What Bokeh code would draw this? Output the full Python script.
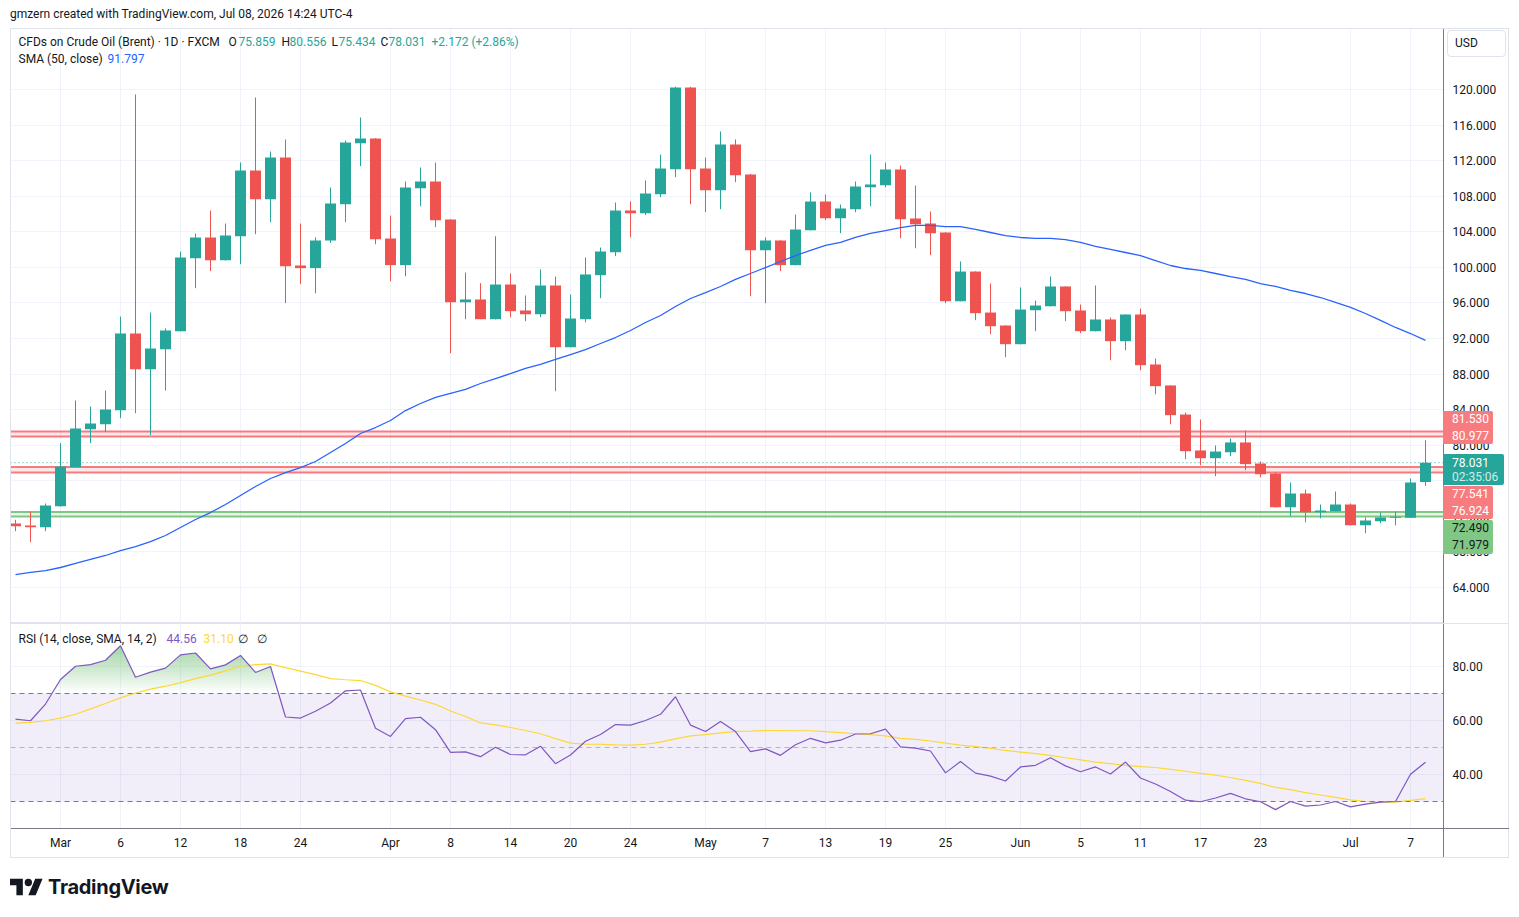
import numpy as np
from bokeh.plotting import figure
from bokeh.models import Range1d, FixedTicker, Span, BoxAnnotation, Label, Div, NumeralTickFormatter
from bokeh.layouts import column
from bokeh.embed import file_html
from bokeh.resources import INLINE

# ---------------- data ----------------
opens = [71.20, 70.97, 70.78, 73.14, 77.53, 81.80, 82.36, 83.94, 92.56, 88.55,
         90.80, 92.82, 101.03, 103.36, 100.80, 103.50, 110.89, 107.66, 112.35, 100.21,
         99.91, 103.02, 107.10, 113.96, 114.49, 103.25, 100.25, 108.90, 109.65, 105.38,
         96.08, 96.39, 94.17, 98.07, 95.15, 94.73, 97.96, 91.02, 94.17, 99.12,
         101.70, 106.39, 106.09, 108.23, 111.04, 120.22, 111.12, 108.68, 113.82, 110.44,
         101.93, 103.02, 100.25, 104.18, 107.41, 105.53, 106.54, 109.01, 109.24, 111.00,
         105.49, 104.93, 103.92, 96.19, 99.53, 94.92, 93.46, 91.36, 95.18, 95.63,
         97.85, 95.15, 92.82, 94.14, 91.70, 94.70, 89.08, 86.72, 83.45, 79.41,
         78.54, 79.21, 80.31, 77.94, 76.82, 73.03, 74.57, 72.47, 72.58, 73.33,
         71.00, 71.46, 71.85, 71.85, 75.859]
highs = [71.61, 72.55, 73.45, 80.23, 85.03, 84.35, 86.15, 94.47, 119.44, 94.92,
         93.13, 101.78, 103.81, 106.39, 104.93, 111.79, 119.10, 113.03, 114.38, 104.93,
         103.36, 108.98, 114.27, 116.85, 114.52, 105.83, 109.65, 111.23, 111.79, 105.40,
         99.42, 98.22, 103.50, 99.31, 96.84, 99.76, 98.97, 96.95, 101.11, 102.23,
         107.29, 107.41, 109.77, 112.69, 120.30, 120.30, 112.35, 115.28, 114.38, 110.50,
         103.36, 103.05, 105.94, 108.42, 108.19, 107.07, 109.65, 112.69, 111.79, 111.45,
         109.20, 106.28, 103.95, 100.66, 99.55, 98.18, 93.48, 97.74, 96.27, 98.97,
         97.87, 95.82, 97.96, 94.36, 94.72, 95.37, 89.75, 86.74, 83.68, 82.89,
         79.97, 80.76, 81.65, 78.17, 76.93, 75.81, 75.02, 73.33, 74.79, 73.45,
         71.87, 72.43, 72.55, 76.26, 80.556]
lows = [70.33, 69.10, 70.33, 73.10, 77.50, 80.23, 81.47, 83.04, 83.60, 81.13,
        86.15, 92.80, 97.66, 99.57, 100.78, 100.36, 103.73, 105.08, 95.97, 98.11,
        97.09, 102.76, 105.08, 111.38, 102.60, 98.44, 99.00, 106.88, 104.52, 90.35,
        94.17, 94.17, 94.15, 94.40, 93.95, 94.40, 86.07, 91.00, 93.83, 96.53,
        101.26, 103.39, 105.87, 107.89, 110.14, 107.10, 106.20, 106.54, 109.58, 96.76,
        95.97, 99.57, 100.22, 104.15, 105.30, 103.84, 106.20, 106.88, 109.01, 103.28,
        102.15, 101.37, 95.97, 96.17, 94.06, 92.48, 89.90, 91.34, 92.82, 95.60,
        93.95, 92.60, 92.80, 89.56, 90.68, 88.44, 85.74, 82.36, 78.43, 77.75,
        76.52, 78.77, 77.19, 76.40, 73.00, 72.02, 71.34, 71.79, 72.56, 70.98,
        70.11, 71.23, 71.00, 71.83, 75.434]
closes = [70.90, 70.78, 73.22, 77.61, 81.88, 82.44, 84.02, 92.56, 88.55, 90.88,
          92.90, 101.11, 103.36, 100.80, 103.58, 110.89, 107.66, 112.35, 100.13, 99.91,
          103.02, 107.18, 114.04, 114.49, 103.17, 100.25, 108.98, 109.65, 105.30, 96.08,
          96.39, 94.17, 98.07, 95.07, 94.73, 97.96, 91.02, 94.25, 99.20, 101.78,
          106.39, 106.09, 108.31, 111.12, 120.22, 111.04, 108.68, 113.82, 110.36, 101.93,
          103.02, 100.25, 104.26, 107.41, 105.53, 106.62, 109.09, 109.32, 111.00, 105.42,
          104.85, 103.84, 96.19, 99.53, 94.85, 93.38, 91.36, 95.26, 95.71, 97.85,
          95.07, 92.82, 94.14, 91.70, 94.70, 89.00, 86.64, 83.38, 79.33, 78.54,
          79.29, 80.31, 77.87, 76.74, 73.03, 74.57, 72.47, 72.66, 73.33, 71.00,
          71.53, 71.87, 71.95, 75.81, 78.031]
sma50 = [65.46, 65.69, 65.91, 66.25, 66.70, 67.15, 67.60, 68.16, 68.61, 69.17,
         69.85, 70.75, 71.65, 72.43, 73.33, 74.35, 75.36, 76.26, 76.93, 77.49,
         78.17, 79.18, 80.19, 81.32, 81.99, 82.78, 83.90, 84.69, 85.37, 85.82,
         86.27, 86.94, 87.50, 88.06, 88.63, 89.08, 89.64, 90.20, 90.76, 91.44,
         92.11, 92.90, 93.80, 94.59, 95.60, 96.50, 97.17, 97.85, 98.64, 99.31,
         99.98, 100.66, 101.33, 101.90, 102.46, 102.80, 103.36, 103.81, 104.14, 104.48,
         104.71, 104.71, 104.59, 104.59, 104.26, 103.92, 103.58, 103.36, 103.25, 103.25,
         103.13, 102.80, 102.35, 102.01, 101.67, 101.33, 100.77, 100.21, 99.87, 99.65,
         99.31, 98.97, 98.64, 98.18, 97.85, 97.40, 97.06, 96.61, 96.05, 95.49,
         94.81, 94.03, 93.24, 92.56, 91.797]
rsi = [60.5, 59.9, 66.1, 75.2, 80.1, 80.7, 82.3, 87.7, 76.0, 77.9,
       79.4, 84.3, 85.0, 79.1, 80.6, 84.1, 77.8, 80.0, 61.3, 60.9,
       63.4, 66.5, 71.0, 71.3, 57.1, 54.1, 60.7, 61.2, 56.6, 48.2,
       48.4, 46.6, 50.1, 47.4, 47.3, 50.5, 44.0, 47.2, 52.3, 54.8,
       58.5, 58.3, 60.0, 62.3, 68.8, 58.3, 55.9, 59.6, 55.9, 48.5,
       49.5, 47.1, 51.0, 53.4, 51.7, 52.7, 55.0, 55.1, 56.8, 50.2,
       49.8, 48.7, 40.6, 44.8, 40.5, 39.4, 37.6, 42.8, 43.4, 46.2,
       43.2, 41.0, 42.8, 40.2, 44.6, 38.7, 36.5, 33.7, 30.5, 29.9,
       31.3, 33.0, 31.0, 29.9, 27.0, 30.0, 28.3, 28.7, 30.0, 28.0,
       29.0, 29.8, 30.0, 40.1, 44.56]
rsi_sma = [59.0, 59.3, 59.9, 60.9, 62.3, 64.3, 66.3, 68.4, 70.2, 71.6,
           72.7, 74.0, 75.5, 76.8, 78.4, 80.1, 80.7, 81.0, 79.6, 78.3,
           77.0, 75.5, 75.1, 74.8, 73.0, 70.6, 69.0, 67.6, 66.0, 63.5,
           61.5, 59.1, 58.4, 57.4, 56.3, 55.1, 53.3, 51.6, 51.2, 51.2,
           51.0, 50.9, 51.2, 52.0, 53.2, 54.3, 54.8, 55.4, 56.0, 56.1,
           56.3, 56.3, 56.2, 56.2, 55.9, 55.5, 55.1, 54.8, 54.3, 53.4,
           53.0, 52.4, 51.6, 50.9, 50.3, 49.7, 48.9, 48.3, 47.7, 47.1,
           46.2, 45.4, 44.6, 44.0, 43.4, 42.9, 42.6, 41.9, 41.2, 40.4,
           39.8, 38.9, 37.8, 36.7, 35.2, 34.4, 33.3, 32.4, 31.5, 30.6,
           30.0, 29.8, 29.8, 30.4, 31.10]
tick_bars = [3, 7, 11, 15, 19, 25, 29, 33, 37, 41, 46, 50, 54, 58, 62, 67, 71, 75, 79, 83, 89, 93]
tick_labels = ["Mar", "6", "12", "18", "24", "Apr", "8", "14", "20", "24", "May", "7",
               "13", "19", "25", "Jun", "5", "11", "17", "23", "Jul", "7"]
price_ticks = [64, 68, 72, 76, 80, 84, 88, 92, 96, 100, 104, 108, 112, 116, 120]
rsi_ticks = [40, 60, 80]
resist_hi = [81.530, 80.977]
resist_lo = [77.541, 76.924]
support = [72.490, 71.979]
last_close = 78.031
countdown = "02:35:06"

# ---------------- helpers ----------------
UP, DN = "#26a69a", "#ef5350"
FONT = "Roboto"
TXT = "#131722"
GRID = "#f0f3fa"
AXLINE = "#787b86"
RED_TAG, GREEN_TAG = "#f77c80", "#81c784"

def bx(px):
    return (px - 15.0) / 15.0

def py(px):
    return 120.0 - (px - 89.0) / 8.893

def ry(px):
    return 80.0 - (px - 666.0) / 2.7

n = len(closes)
bars = np.arange(n)
o = np.array(opens); c = np.array(closes)
up = c >= o
colors = [UP if u else DN for u in up]
body_top = np.maximum(o, c)
body_bot = np.minimum(o, c)
mid = (body_top + body_bot) / 2
small = (body_top - body_bot) < 0.12
body_top = np.where(small, mid + 0.06, body_top)
body_bot = np.where(small, mid - 0.06, body_bot)

xr = Range1d(bx(10), bx(1443))

# ---------------- price pane ----------------
p = figure(width=1519, height=595, x_range=xr, y_range=Range1d(py(623), py(28)),
           output_backend="svg", toolbar_location=None, x_axis_location=None,
           y_axis_location="right", min_border_left=10, min_border_right=76,
           min_border_top=0, min_border_bottom=0)
p.outline_line_color = "#e0e3eb"
p.xgrid.ticker = FixedTicker(ticks=tick_bars)
p.ygrid.ticker = FixedTicker(ticks=price_ticks)
p.grid.grid_line_color = GRID
p.yaxis.ticker = FixedTicker(ticks=price_ticks)
p.yaxis.formatter = NumeralTickFormatter(format="0.000")
p.yaxis.major_tick_line_color = None
p.yaxis.minor_tick_line_color = None
p.yaxis.major_tick_out = 0
p.yaxis.major_tick_in = 0
p.yaxis.major_label_standoff = 9
p.yaxis.axis_line_color = AXLINE
p.yaxis.major_label_text_font = FONT
p.yaxis.major_label_text_font_size = "12px"
p.yaxis.major_label_text_color = TXT

# support / resistance zones
for pair, col, fill in [(resist_hi, RED_TAG, "#f23645"), (resist_lo, RED_TAG, "#f23645"),
                        (support, GREEN_TAG, "#4caf50")]:
    p.add_layout(BoxAnnotation(bottom=min(pair), top=max(pair), fill_color=fill,
                               fill_alpha=0.12, line_color=None, level="underlay"))
    for v in pair:
        p.add_layout(Span(location=v, dimension="width", line_color=col, line_width=2,
                          level="underlay"))
p.add_layout(Span(location=last_close, dimension="width", line_color=UP, line_width=1,
                  line_dash="1 3", level="underlay"))

p.segment(x0=bars, y0=lows, x1=bars, y1=highs, line_color=colors, line_width=1)
p.vbar(x=bars, width=11 / 15, top=body_top, bottom=body_bot, fill_color=colors, line_color=None)
p.line(bars, sma50, line_color="#2962ff", line_width=1.3)

def lab(fig, xpx, y, text, color=TXT, size="12px", **kw):
    fig.add_layout(Label(x=bx(xpx), y=y, text=text, text_align="left", text_baseline="middle",
                         text_font=FONT, text_font_size=size, text_color=color, **kw))

# legend row 1
y1 = py(41)
lab(p, 18, y1, "CFDs on Crude Oil (Brent) · 1D · FXCM")
for xpx, t, col in [(228, "O", TXT), (238, "%.3f" % opens[-1], UP), (281, "H", TXT),
                    (289, "%.3f" % highs[-1], UP), (331, "L", TXT), (338, "%.3f" % lows[-1], UP),
                    (380, "C", TXT), (388, "%.3f" % closes[-1], UP),
                    (431, "+2.172 (+2.86%)", UP)]:
    lab(p, xpx, y1, t, col)
y2 = py(58)
lab(p, 18, y2, "SMA (50, close)")
lab(p, 107, y2, "%.3f" % sma50[-1], "#2962ff")

# ---------------- RSI pane ----------------
r = figure(width=1519, height=234, x_range=xr, y_range=Range1d(20, ry(623)),
           output_backend="svg", toolbar_location=None, y_axis_location="right",
           min_border_left=10, min_border_right=76, min_border_top=0, min_border_bottom=29)
r.outline_line_color = "#e0e3eb"
r.xaxis.ticker = FixedTicker(ticks=tick_bars)
r.xaxis.major_label_overrides = {b: l for b, l in zip(tick_bars, tick_labels)}
r.xgrid.ticker = FixedTicker(ticks=tick_bars)
r.ygrid.ticker = FixedTicker(ticks=rsi_ticks)
r.yaxis.ticker = FixedTicker(ticks=rsi_ticks)
r.yaxis.formatter = NumeralTickFormatter(format="0.00")
r.grid.grid_line_color = GRID
for ax in (r.xaxis, r.yaxis):
    ax.major_tick_line_color = None
    ax.minor_tick_line_color = None
    ax.major_tick_out = 0
    ax.major_tick_in = 0
    ax.axis_line_color = AXLINE
    ax.major_label_text_font = FONT
    ax.major_label_text_font_size = "12px"
    ax.major_label_text_color = TXT
r.yaxis.major_label_standoff = 9
r.xaxis.major_label_standoff = 7

r.add_layout(BoxAnnotation(bottom=30, top=70, fill_color="#7e57c2", fill_alpha=0.1,
                           line_color=None, level="underlay"))
for lvl, a in [(70, 1.0), (50, 0.5), (30, 1.0)]:
    r.add_layout(Span(location=lvl, dimension="width", line_color="#787b86", line_alpha=a,
                      line_dash="5 4", line_width=1))

# gradient fills beyond 70 / below 30 (area between the RSI line and the level)
xs = np.linspace(0, n - 1, (n - 1) * 20 + 1)
rs = np.interp(xs, bars, rsi)
for L in range(70, 96):
    top = np.clip(rs, L, L + 1)
    if np.all(top <= L):
        continue
    a = min(0.6, 0.6 * (L + 0.5 - 70) / 20)
    r.varea(x=xs, y1=np.full_like(xs, float(L)), y2=top, fill_color="#4caf50", fill_alpha=a)
for L in range(20, 30):
    bot = np.clip(rs, L, L + 1)
    if np.all(bot >= L + 1):
        continue
    a = min(0.6, 0.6 * (30 - (L + 0.5)) / 20)
    r.varea(x=xs, y1=bot, y2=np.full_like(xs, float(L + 1)), fill_color="#ef5350", fill_alpha=a)

r.line(bars, rsi_sma, line_color="#fdd835", line_width=1.2)
r.line(bars, rsi, line_color="#7e57c2", line_width=1.2)

yr = ry(638)
lab(r, 18, yr, "RSI (14, close, SMA, 14, 2)")
lab(r, 166, yr, "%.2f" % rsi[-1], "#7e57c2")
lab(r, 203, yr, "%.2f" % rsi_sma[-1], "#fdd835")
lab(r, 237, yr, "∅")
lab(r, 256, yr, "∅")

# ---------------- header / footer (+ price-scale tags drawn as an HTML overlay) ----------------
header = Div(text='<div style="padding-left:10px;line-height:28px;font-family:Roboto;'
                  'font-size:12px;color:#131722;white-space:nowrap;">'
                  'gmzern created with TradingView.com, Jul 08, 2026 14:24 UTC-4</div>',
             width=1519, height=28, margin=(0, 0, 0, 0))

FOOT_TOP = 857

def abs_div(left, top, w, h, style, inner=""):
    return ('<div style="position:absolute;left:%dpx;top:%dpx;width:%dpx;height:%dpx;'
            'box-sizing:border-box;%s">%s</div>' % (left, top - FOOT_TOP, w, h, style, inner))

tag_font = "font-family:Roboto;font-size:12px;white-space:nowrap;"
overlay = []
# outer chart frame and scale separators
overlay.append(abs_div(10, 28, 1499, 830, "border:1px solid #e0e3eb;pointer-events:none;"))
overlay.append(abs_div(1443, 623, 66, 1, "background:#e0e3eb;"))
overlay.append(abs_div(1443, 828, 66, 1, "background:%s;" % AXLINE))
overlay.append(abs_div(1443, 828, 1, 29, "background:%s;" % AXLINE))
# USD button
overlay.append(abs_div(1447, 30, 59, 27, "border:1px solid #e0e3eb;border-radius:4px;background:white;"
                       "color:#131722;padding-left:7px;line-height:25px;" + tag_font, "USD"))
# price tags
rad = "border-radius:0 2px 2px 0;"
overlay.append(abs_div(1443, 411, 50, 33, "background:%s;color:white;padding-left:9px;line-height:16.5px;%s%s"
                       % (RED_TAG, rad, tag_font), "%.3f<br>%.3f" % tuple(resist_hi)))
overlay.append(abs_div(1443, 454, 61, 31, "background:%s;color:white;padding-left:9px;padding-top:2px;"
                       "line-height:14.4px;%s%s" % (UP, rad, tag_font),
                       '%.3f<br><span style="color:rgba(255,255,255,0.8)">%s</span>' % (last_close, countdown)))
overlay.append(abs_div(1443, 486, 50, 33, "background:%s;color:white;padding-left:9px;line-height:16.5px;%s%s"
                       % (RED_TAG, rad, tag_font), "%.3f<br>%.3f" % tuple(resist_lo)))
overlay.append(abs_div(1443, 520, 50, 34, "background:%s;color:#131722;padding-left:9px;line-height:16.5px;%s%s"
                       % (GREEN_TAG, rad, tag_font), "%.3f<br>%.3f" % tuple(support)))

logo = ('<svg style="position:absolute;left:10px;top:18px" width="33" height="26" '
        'viewBox="0 0 36 28"><g fill="#131722">'
        '<path d="M14 22H7V11H0V4h14v18zM28 22h-8l7.5-18h8L28 22z"/>'
        '<circle cx="20" cy="8" r="4"/></g></svg>'
        '<div style="position:absolute;left:48px;top:18px;font-family:Inter;'
        'font-weight:700;font-size:20px;color:#131722;line-height:24px;'
        'letter-spacing:-0.3px;">TradingView</div>')

footer = Div(text='<div style="position:relative;width:1519px;height:60px;overflow:visible;">'
                  + "".join(overlay) + logo + '</div>',
             width=1519, height=60, margin=(0, 0, 0, 0))

layout = column(header, p, r, footer, spacing=0)
open("out.html", "w").write(file_html(layout, INLINE))
